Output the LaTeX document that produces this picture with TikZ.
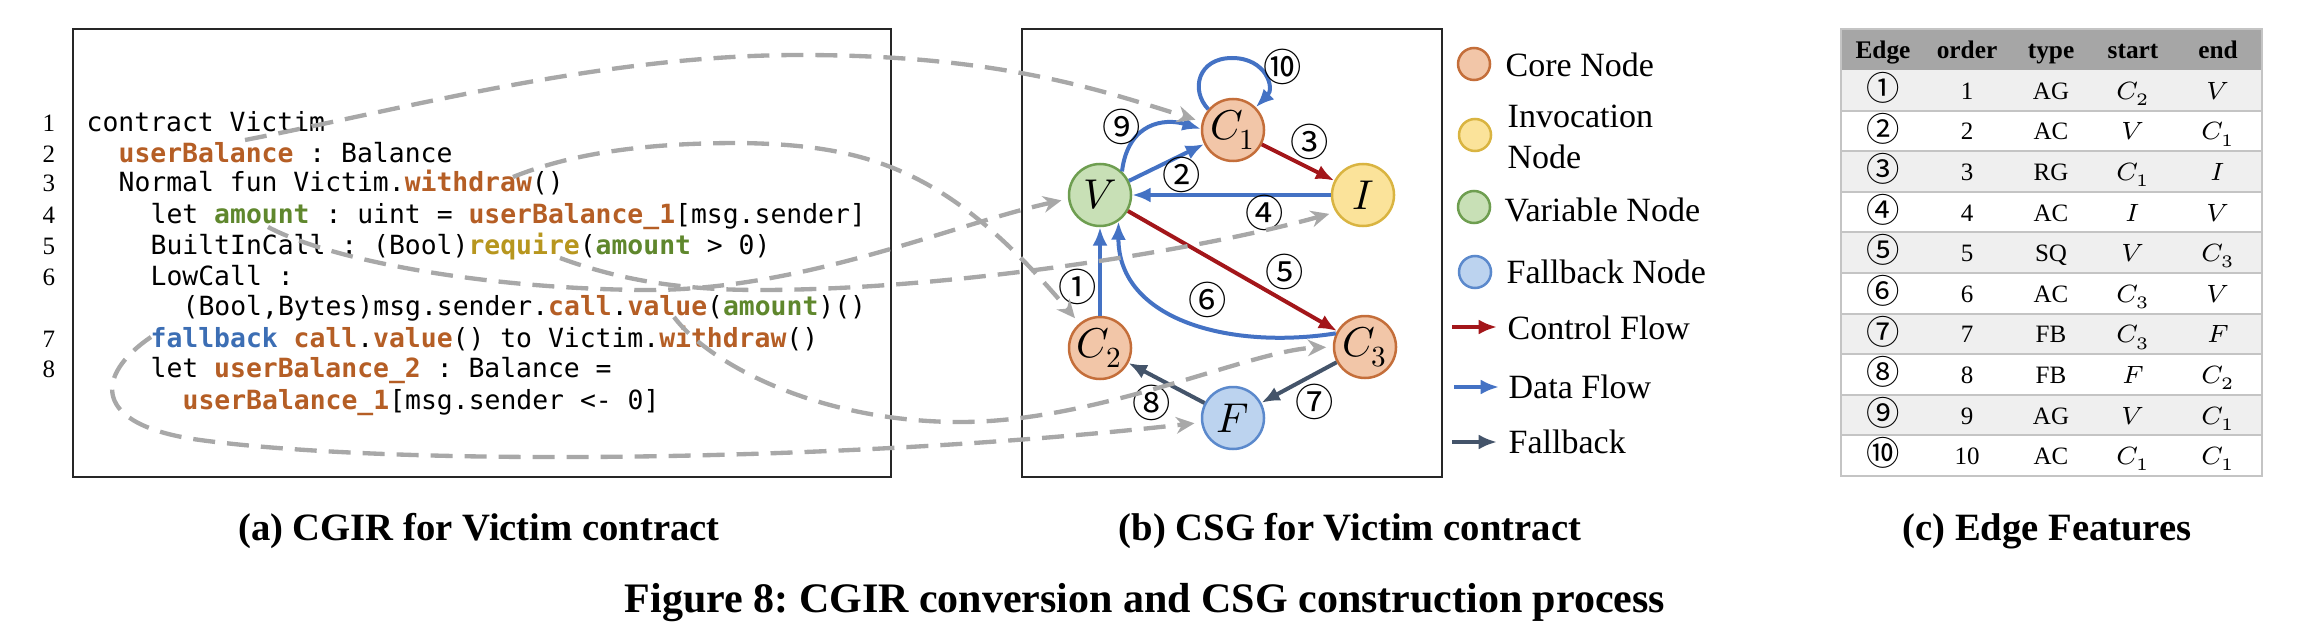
\documentclass[tikz,border=0pt]{standalone}
\usepackage{fontspec}
\usepackage{unicode-math}
\setmainfont{Liberation Serif}
\setmonofont{DejaVu Sans Mono}
\newfontfamily\circfont{Noto Sans CJK SC}
\usetikzlibrary{arrows.meta}
\definecolor{corefill}{HTML}{F2C6A8}
\definecolor{corebd}{HTML}{C46E3A}
\definecolor{invfill}{HTML}{FBE39A}
\definecolor{invbd}{HTML}{D9B441}
\definecolor{varfill}{HTML}{C8E0B6}
\definecolor{varbd}{HTML}{6E9E50}
\definecolor{fbfill}{HTML}{BCD3EF}
\definecolor{fbbd}{HTML}{5B89CC}
\definecolor{dblue}{HTML}{4472C4}
\definecolor{dred}{HTML}{A3161A}
\definecolor{dslate}{HTML}{44546A}
\definecolor{dgray}{HTML}{A8A8A8}
\definecolor{hdrgray}{HTML}{A6A6A6}
\definecolor{rowgray}{HTML}{EFEFEF}
\definecolor{tabline}{HTML}{C4C4C4}
\definecolor{cbrown}{HTML}{B55E25}
\definecolor{cgreen}{HTML}{5F872D}
\definecolor{cgold}{HTML}{B7961E}
\definecolor{cfall}{HTML}{3C6EB4}
\newcommand\kb[1]{\textcolor{cbrown}{\bfseries #1}}
\newcommand\kg[1]{\textcolor{cgreen}{\bfseries #1}}
\newcommand\ky[1]{\textcolor{cgold}{\bfseries #1}}
\newcommand\kf[1]{\textcolor{cfall}{\bfseries #1}}
\begin{document}
\frenchspacing
\begin{tikzpicture}[x=0.3pt,y=-0.3pt,
  codeline/.style={anchor=base west, inner sep=0pt, font=\ttfamily\frenchspacing\fontsize{7.92}{9}\selectfont},
  lnum/.style={anchor=base, inner sep=0pt, font=\fontsize{7.5}{9}\selectfont},
  gnode/.style={circle, minimum size=18.6pt, inner sep=0pt, line width=0.75pt, font=\fontsize{12.5}{14}\selectfont},
  corenode/.style={gnode, draw=corebd, fill=corefill},
  invnode/.style={gnode, draw=invbd, fill=invfill},
  varnode/.style={gnode, draw=varbd, fill=varfill},
  fbnode/.style={gnode, draw=fbbd, fill=fbfill},
  legdot/.style={minimum size=9.6pt},
  elab/.style={inner sep=0pt, font=\circfont\fontsize{11.5}{12}\selectfont},
  df/.style={draw=dblue, line width=1.2pt, -{Latex[length=5.5pt,width=4.5pt]}},
  cf/.style={draw=dred, line width=1.2pt, -{Latex[length=5.5pt,width=4.5pt]}},
  fb/.style={draw=dslate, line width=1.2pt, -{Latex[length=5.5pt,width=4.5pt]}},
  gdash/.style={draw=dgray, line width=1.3pt, dash pattern=on 6.6pt off 3.6pt, -{Stealth[length=5.5pt,width=5pt]}, shorten >=2pt},
  boxline/.style={draw=black!85, line width=0.75pt},
  legtxt/.style={anchor=base west, inner sep=0pt, font=\fontsize{10.2}{12}\selectfont},
  subcap/.style={anchor=base, inner sep=0pt, font=\bfseries\fontsize{11.6}{13}\selectfont},
  tabtxt/.style={anchor=base, inner sep=0pt, font=\fontsize{7.5}{9}\selectfont},
  tabhdr/.style={anchor=base, inner sep=0pt, font=\bfseries\fontsize{7.6}{9}\selectfont},
  tabcirc/.style={anchor=base, inner sep=0pt, font=\circfont\fontsize{10}{11}\selectfont}
]
\useasboundingbox (0,0) rectangle (2314,634);

% ---------- panel frames ----------
\draw[boxline] (73,29) rectangle (891,477);
\draw[boxline] (1022,29) rectangle (1442,477);

% ---------- code (a) ----------
\node[lnum] (n1) at (49,132) {1};
\node[lnum] (n2) at (49,162) {2};
\node[lnum] (n3) at (49,192) {3};
\node[lnum] (n4) at (49,224) {4};
\node[lnum] (n5) at (49,254) {5};
\node[lnum] (n6) at (49,285) {6};
\node[lnum] (n7) at (49,347) {7};
\node[lnum] (n8) at (49,377) {8};

\node[codeline] (c1) at (86,132) {contract Victim};
\node[codeline] (c2) at (118,162) {\kb{userBalance} : Balance};
\node[codeline] (c3) at (118,192) {Normal fun Victim.\kb{withdraw}()};
\node[codeline] (c4) at (150,224) {let \kg{amount} : uint = \kb{userBalance\_1}[msg.sender]};
\node[codeline] (c5) at (150,254) {BuiltInCall : (Bool)\ky{require}(\kg{amount} > 0)};
\node[codeline] (c6) at (150,285) {LowCall :};
\node[codeline] (c6b) at (182,315) {(Bool,Bytes)msg.sender.\kb{call}.\kb{value}(\kg{amount})()};
\node[codeline] (c7) at (150,347) {\kf{fallback} \kb{call}.\kb{value}() to Victim.\kb{withdraw}()};
\node[codeline] (c8) at (150,377) {let \kb{userBalance\_2} : Balance =};
\node[codeline] (c8b) at (182,409) {\kb{userBalance\_1}[msg.sender <- 0]};

% ---------- graph (b) ----------
\node[varnode] (V) at (1100,195) {$V$};
\node[corenode] (C1) at (1233,130) {$C_1$};
\node[invnode] (I) at (1363,195) {$I$};
\node[corenode] (C2) at (1100,348) {$C_2$};
\node[corenode] (C3) at (1365,347) {$C_3$};
\node[fbnode] (F) at (1233,418) {$F$};

\draw[df] (C2) -- (V);
\draw[df] (V) -- (C1);
\draw[cf] (C1) -- (I);
\draw[df] (I) -- (V);
\draw[cf] (V) -- (C3);
\draw[df] (C3.155) .. controls (1230,350) and (1118,320) .. (V.-55);
\draw[fb] (C3) -- (F);
\draw[fb] (F) -- (C2);
\draw[df] (V.47) .. controls (1128,122) and (1165,118) .. (C1.178);
\draw[df] (C1.140) .. controls (1190,90) and (1198,58) .. (1232,58) .. controls (1266,58) and (1275,88) .. (C1.45);

\node[elab] (e1) at (1078,287) {①};
\node[elab] (e2) at (1182,175) {②};
\node[elab] (e3) at (1310,142) {③};
\node[elab] (e4) at (1265,213) {④};
\node[elab] (e5) at (1285,272) {⑤};
\node[elab] (e6) at (1208,300) {⑥};
\node[elab] (e7) at (1315,402) {⑦};
\node[elab] (e8) at (1152,403) {⑧};
\node[elab] (e9) at (1122,127) {⑨};
\node[elab] (e10) at (1283,67) {⑩};

% ---------- legend ----------
\node[corenode, legdot] (lg1) at (1474,64) {};
\node[invnode, legdot] (lg2) at (1475,135) {};
\node[varnode, legdot] (lg3) at (1474,207) {};
\node[fbnode, legdot] (lg4) at (1475,272) {};
\node[legtxt] (lt1) at (1505,77) {Core Node};
\node[legtxt] (lt2) at (1507,127) {Invocation};
\node[legtxt] (lt2b) at (1507,168) {Node};
\node[legtxt] (lt3) at (1504,221) {Variable Node};
\node[legtxt] (lt4) at (1506,283) {Fallback Node};
\node[legtxt] (lt5) at (1507,339) {Control Flow};
\node[legtxt] (lt6) at (1508,398) {Data Flow};
\node[legtxt] (lt7) at (1508,453) {Fallback};
\coordinate (la1) at (1452,327); \coordinate (lb1) at (1497,327);
\coordinate (la2) at (1454,387); \coordinate (lb2) at (1499,387);
\coordinate (la3) at (1452,442); \coordinate (lb3) at (1497,442);
\draw[cf] (la1) -- (lb1);
\draw[df] (la2) -- (lb2);
\draw[fb] (la3) -- (lb3);

% ---------- table (c) ----------
\fill[hdrgray] (1841,29) rectangle (2262,70);
\foreach \i in {1,3,5,7,9}{
  \fill[rowgray] (1841,{70+(\i-1)*40.6}) rectangle (2262,{70+\i*40.6});
}
\foreach \i in {1,...,9}{
  \draw[tabline, line width=0.6pt] (1841,{70+\i*40.6}) -- (2262,{70+\i*40.6});
}
\draw[tabline, line width=0.6pt] (1841,29) rectangle (2262,476);
\node[tabhdr] (h1) at (1883,59) {Edge};
\node[tabhdr] (h2) at (1967,59) {order};
\node[tabhdr] (h3) at (2051,59) {type};
\node[tabhdr] (h4) at (2133,59) {start};
\node[tabhdr] (h5) at (2218,59) {end};
\foreach \i/\e/\o/\t/\s/\f in {1/①/1/AG/C_2/V, 2/②/2/AC/V/C_1, 3/③/3/RG/C_1/I, 4/④/4/AC/I/V, 5/⑤/5/SQ/V/C_3, 6/⑥/6/AC/C_3/V, 7/⑦/7/FB/C_3/F, 8/⑧/8/FB/F/C_2, 9/⑨/9/AG/V/C_1, 10/⑩/10/AC/C_1/C_1}{
  \node[tabcirc] (r\i a) at (1883,{100.5+(\i-1)*40.6}) {\e};
  \node[tabtxt] (r\i b) at (1967,{99.3+(\i-1)*40.6}) {\o};
  \node[tabtxt] (r\i c) at (2051,{99.3+(\i-1)*40.6}) {\t};
  \node[tabtxt] (r\i d) at (2133,{99.3+(\i-1)*40.6}) {$\s$};
  \node[tabtxt] (r\i e) at (2218,{99.3+(\i-1)*40.6}) {$\f$};
}

% ---------- captions ----------
\node[subcap] (capa) at (479,540) {(a) CGIR for Victim contract};
\node[subcap] (capb) at (1350,540) {(b) CSG for Victim contract};
\node[subcap] (capc) at (2047,540) {(c) Edge Features};
\node[anchor=base, inner sep=0pt, font=\bfseries\fontsize{12.6}{14}\selectfont] (capfig) at (1145,612) {Figure 8: CGIR conversion and CSG construction process};

% ---------- dashed mapping connectors ----------
\coordinate (sVictim) at (245,140);
\coordinate (sWithdraw) at (513,177);
\coordinate (sAmount) at (268,227);
\coordinate (sRequire) at (560,258);
\coordinate (sValue) at (674,317);
\coordinate (sFallback) at (151,337);
\draw[gdash] (sVictim) .. controls (400,110) and (600,55) .. (800,55) .. controls (1000,55) and (1100,90) .. (C1.165);
\draw[gdash] (sWithdraw) .. controls (580,150) and (660,143) .. (740,143) .. controls (870,145) and (950,170) .. (C2.130);
\draw[gdash] (sAmount) .. controls (330,260) and (480,288) .. (640,290) .. controls (800,292) and (950,225) .. (V.187);
\draw[gdash] (sRequire) .. controls (620,280) and (680,290) .. (760,290) .. controls (950,290) and (1200,250) .. (I.212);
\draw[gdash] (sValue) .. controls (710,365) and (820,422) .. (960,422) .. controls (1100,422) and (1250,350) .. (C3.west);
\draw[gdash] (sFallback) .. controls (95,375) and (90,425) .. (200,440) .. controls (400,467) and (850,462) .. (F.188);
\end{tikzpicture}
\end{document}
